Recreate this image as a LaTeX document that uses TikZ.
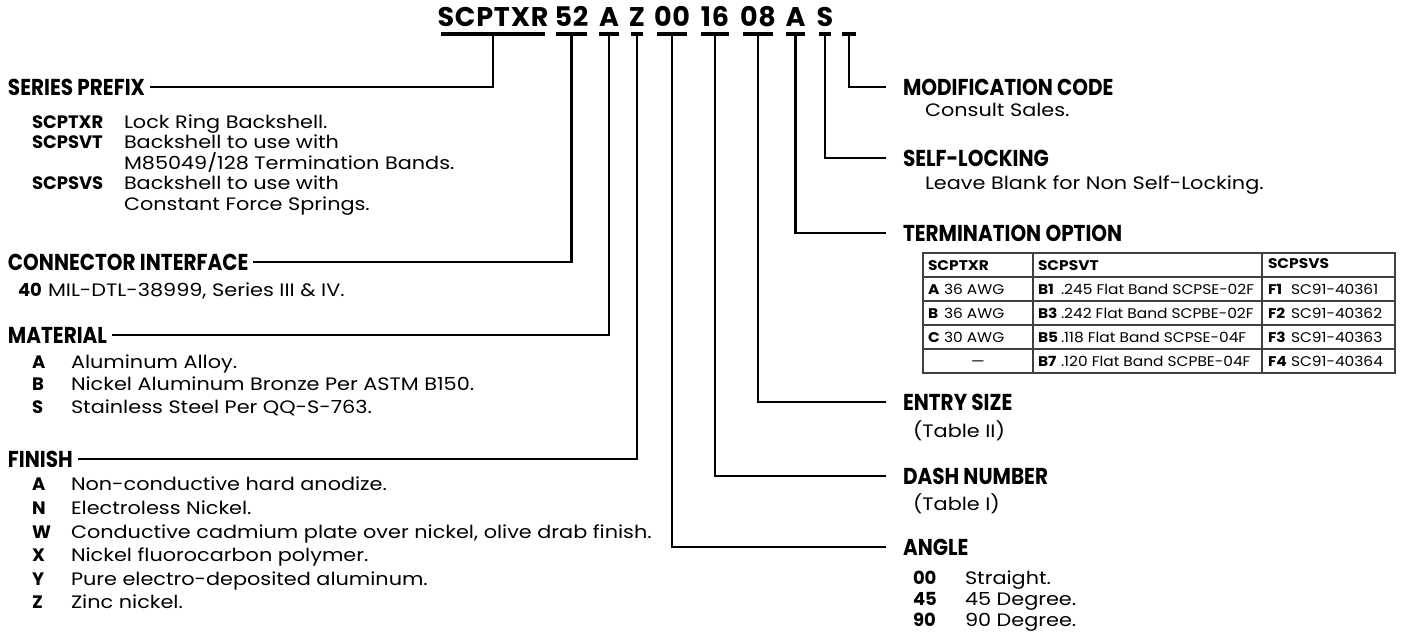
\documentclass[tikz,border=0pt]{standalone}
\usepackage{fontspec}
\setmainfont{Poppins}
\newfontfamily\bodyfam[FakeStretch=1.155]{Poppins}
\newfontfamily\headfam[FakeStretch=0.87]{Poppins}
\newfontfamily\tabfam[FakeStretch=1.1]{Poppins}
\newcommand{\bodyf}{\bodyfam\fontsize{18}{20}\selectfont}
\newcommand{\headf}{\headfam\fontsize{23}{24}\selectfont\bfseries}
\newcommand{\codef}{\fontsize{18}{20}\selectfont\bfseries}
\newcommand{\tokf}{\fontsize{27}{30}\selectfont\bfseries\addfontfeature{LetterSpace=3}}
\newcommand{\tabf}{\tabfam\fontsize{14}{16}\selectfont}
\begin{document}
\begin{tikzpicture}[x=1pt,y=-1pt,
  every node/.style={inner sep=0pt,outer sep=0pt},
  lead/.style={line width=2.2pt,line join=miter},
  barnode/.style={fill=black,minimum height=4pt,minimum width=#1},
  tok/.style={font=\tokf,anchor=base},
  headL/.style={font=\headf,anchor=west,inner xsep=5pt},
  headR/.style={font=\headf,anchor=west,inner xsep=17pt},
  body/.style={font=\bodyf,anchor=base west},
  code/.style={font=\codef,anchor=base west},
  tcode/.style={font=\tabf\bfseries,anchor=base west},
  ttext/.style={font=\tabf,anchor=base west},
  grid/.style={line width=1.1pt,draw=black!75}]
\useasboundingbox (0,0) rectangle (1402,634);

% ---- part number tokens ----
\node[tok] (k1) at (493,27) {SCPTXR};
\node[tok] (k2) at (571.5,27) {52};
\node[tok] (k3) at (609,27) {A};
\node[tok] (k4) at (637,27) {Z};
\node[tok] (k5) at (672,27) {00};
\node[tok] (k6) at (715,27) {16};
\node[tok] (k7) at (758,27) {08};
\node[tok] (k8) at (795.5,27) {A};
\node[tok] (k9) at (825,27) {S};
\node[barnode=104] (b1) at (493,34) {};
\node[barnode=31] (b2) at (571.5,34) {};
\node[barnode=20] (b3) at (609,34) {};
\node[barnode=12] (b4) at (637,34) {};
\node[barnode=30] (b5) at (672,34) {};
\node[barnode=28] (b6) at (715,34) {};
\node[barnode=30] (b7) at (758,34) {};
\node[barnode=19] (b8) at (795.5,34) {};
\node[barnode=12] (b9) at (825,34) {};
\node[barnode=14] (b10) at (849,34) {};

% ---- left headings ----
\node[headL] (hSer) at (3,87) {SERIES PREFIX};
\node[headL] (hCon) at (3,262) {CONNECTOR INTERFACE};
\node[headL] (hMat) at (3,335) {MATERIAL};
\node[headL] (hFin) at (3,459) {FINISH};

% series prefix items
\node[code] (s1c) at (32,128.5) {SCPTXR};  \node[body] (s1t) at (124,128.5) {Lock Ring Backshell.};
\node[code] (s2c) at (32,148.5) {SCPSVT};  \node[body] (s2t) at (124,148.5) {Backshell to use with};
\node[body] (s2u) at (124,169) {M85049/128 Termination Bands.};
\node[code] (s3c) at (32,189.5) {SCPSVS};  \node[body] (s3t) at (124,189.5) {Backshell to use with};
\node[body] (s3u) at (124,210) {Constant Force Springs.};
% connector interface
\node[code] (c1c) at (18,296) {40}; \node[body] (c1t) at (48,296) {MIL-DTL-38999, Series III \& IV.};
% material
\node[code] (m1c) at (32,368) {A}; \node[body] (m1t) at (71,368) {Aluminum Alloy.};
\node[code] (m2c) at (32,390.5) {B}; \node[body] (m2t) at (71,390.5) {Nickel Aluminum Bronze Per ASTM B150.};
\node[code] (m3c) at (32,413) {S}; \node[body] (m3t) at (71,413) {Stainless Steel Per QQ-S-763.};
% finish
\node[code] (f1c) at (32,490) {A}; \node[body] (f1t) at (71,490) {Non-conductive hard anodize.};
\node[code] (f2c) at (32,514) {N}; \node[body] (f2t) at (71,514) {Electroless Nickel.};
\node[code] (f3c) at (32,538) {W}; \node[body] (f3t) at (71,538) {Conductive cadmium plate over nickel, olive drab finish.};
\node[code] (f4c) at (32,561.5) {X}; \node[body] (f4t) at (71,561.5) {Nickel fluorocarbon polymer.};
\node[code] (f5c) at (32,585) {Y}; \node[body] (f5t) at (71,585) {Pure electro-deposited aluminum.};
\node[code] (f6c) at (32,608) {Z}; \node[body] (f6t) at (71,608) {Zinc nickel.};

% ---- right headings ----
\node[headR] (hMod) at (886,87) {MODIFICATION CODE};
\node[body] (modt) at (925,116.5) {Consult Sales.};
\node[headR] (hSelf) at (886,158) {SELF-LOCKING};
\node[body] (selft) at (925,189.5) {Leave Blank for Non Self-Locking.};
\node[headR] (hTerm) at (886,233) {TERMINATION OPTION};
\node[headR] (hEnt) at (886,402) {ENTRY SIZE};
\node[body] (entt) at (913,437) {(Table II)};
\node[headR] (hDash) at (886,476) {DASH NUMBER};
\node[body] (dasht) at (913,510) {(Table I)};
\node[headR] (hAng) at (886,547) {ANGLE};
\node[code] (a1c) at (913,584.5) {00}; \node[body] (a1t) at (965,584.5) {Straight.};
\node[code] (a2c) at (913,605.5) {45}; \node[body] (a2t) at (965,605.5) {45 Degree.};
\node[code] (a3c) at (913,626.5) {90}; \node[body] (a3t) at (965,626.5) {90 Degree.};

% ---- termination table ----
\draw[grid] (923,253) rectangle (1395,373);
\foreach \yy in {277,301,325,349} \draw[grid] (923,\yy) -- (1395,\yy);
\foreach \xx in {1033,1262} \draw[grid] (\xx,253) -- (\xx,373);
\node[tcode] (th1) at (928,270) {SCPTXR};
\node[tcode] (th2) at (1038,270) {SCPSVT};
\node[tcode] (th3) at (1268,268.5) {SCPSVS};
\node[tcode] (r1a) at (928,294) {A};  \node[ttext] (r1b) at (944,294) {36 AWG};
\node[tcode] (r2a) at (928,318) {B};  \node[ttext] (r2b) at (944,318) {36 AWG};
\node[tcode] (r3a) at (928,342) {C};  \node[ttext] (r3b) at (944,342) {30 AWG};
\node[ttext,anchor=base] (r4a) at (978,366) {—};
\node[tcode] (r1c) at (1038,294) {B1}; \node[ttext] (r1d) at (1061,294) {.245 Flat Band SCPSE-02F};
\node[tcode] (r2c) at (1038,318) {B3}; \node[ttext] (r2d) at (1061,318) {.242 Flat Band SCPBE-02F};
\node[tcode] (r3c) at (1038,342) {B5}; \node[ttext] (r3d) at (1061,342) {.118 Flat Band SCPSE-04F};
\node[tcode] (r4c) at (1038,366) {B7}; \node[ttext] (r4d) at (1061,366) {.120 Flat Band SCPBE-04F};
\node[tcode] (r1e) at (1268,294) {F1}; \node[ttext] (r1f) at (1291,294) {SC91-40361};
\node[tcode] (r2e) at (1268,318) {F2}; \node[ttext] (r2f) at (1291,318) {SC91-40362};
\node[tcode] (r3e) at (1268,342) {F3}; \node[ttext] (r3f) at (1291,342) {SC91-40363};
\node[tcode] (r4e) at (1268,366) {F4}; \node[ttext] (r4f) at (1291,366) {SC91-40364};

% ---- leader lines ----
\draw[lead] (b1.south) |- (hSer.east);
\draw[lead] (b2.south) |- (hCon.east);
\draw[lead] (b3.south) |- (hMat.east);
\draw[lead] (b4.south) |- (hFin.east);
\draw[lead] (b5.south) |- (hAng.west);
\draw[lead] (b6.south) |- (hDash.west);
\draw[lead] (b7.south) |- (hEnt.west);
\draw[lead] (b8.south) |- (hTerm.west);
\draw[lead] (b9.south) |- (hSelf.west);
\draw[lead] (b10.south) |- (hMod.west);
\end{tikzpicture}
\end{document}
